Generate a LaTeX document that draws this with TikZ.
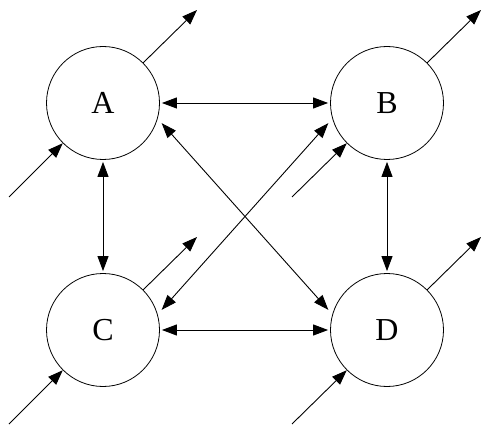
\documentclass[tikz,border=0pt]{standalone}
\usepackage{fontspec}
\setmainfont{Liberation Serif}
\usetikzlibrary{arrows.meta}
\begin{document}
\begin{tikzpicture}[x=1pt,y=-1pt,
  st/.style={circle,draw,line width=0.8pt,minimum size=113pt,inner sep=0pt,font=\fontsize{32}{36}\selectfont},
  tip/.tip={Triangle[length=15pt,width=11pt]},
  ar/.style={line width=0.9pt,-tip},
  bi/.style={line width=0.9pt,tip-tip}]
\useasboundingbox (0,0) rectangle (492,435);
\node[st] (A) at (103,103) {A};
\node[st] (B) at (387,103) {B};
\node[st] (C) at (103,330) {C};
\node[st] (D) at (387,330) {D};
% stub end points
\coordinate (Aout) at (197,10);
\coordinate (Ain) at (9,197);
\coordinate (Bout) at (481,10);
\coordinate (Bin) at (292,197);
\coordinate (Cout) at (197,237);
\coordinate (Cin) at (9,424);
\coordinate (Dout) at (481,237);
\coordinate (Din) at (292,424);
% main edges
\draw[bi,shorten <=2pt,shorten >=2pt] (A.east) -- (B.west);
\draw[bi,shorten <=2pt,shorten >=2pt] (C.east) -- (D.west);
\draw[bi,shorten <=2pt,shorten >=2pt] (A.south) -- (C.north);
\draw[bi,shorten <=2pt,shorten >=2pt] (B.south) -- (D.north);
\draw[bi,shorten <=6pt,shorten >=6pt] (A.-16) -- (D.164);
\draw[bi,shorten <=6pt,shorten >=6pt] (B.196) -- (C.16);
% stubs
\draw[ar] (A.45) -- (Aout);
\draw[ar] (Ain) -- (A.225);
\draw[ar] (B.45) -- (Bout);
\draw[ar] (Bin) -- (B.225);
\draw[ar] (C.45) -- (Cout);
\draw[ar] (Cin) -- (C.225);
\draw[ar] (D.45) -- (Dout);
\draw[ar] (Din) -- (D.225);
\end{tikzpicture}
\end{document}
